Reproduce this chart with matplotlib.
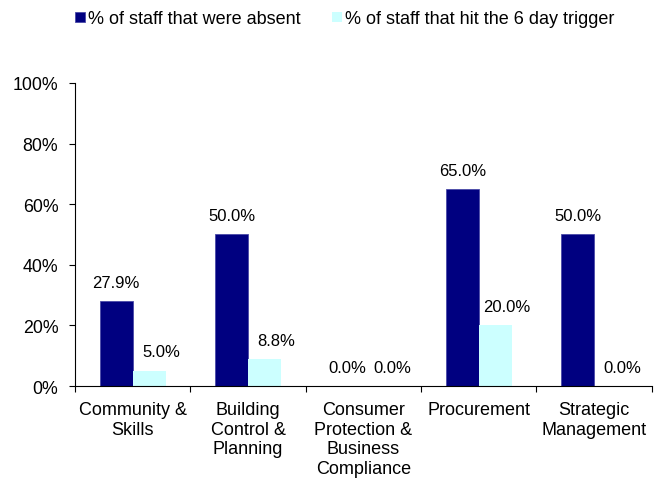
import numpy as np
import matplotlib.pyplot as plt
from matplotlib.ticker import FuncFormatter

plt.rcParams['font.family'] = ['Liberation Sans', 'DejaVu Sans']

categories = ['Community &\nSkills', 'Building\nControl &\nPlanning',
              'Consumer\nProtection &\nBusiness\nCompliance', 'Procurement',
              'Strategic\nManagement']
absent = [27.9, 50.0, 0.0, 65.0, 50.0]
trigger = [5.0, 8.8, 0.0, 20.0, 0.0]
series_names = ['% of staff that were absent', '% of staff that hit the 6 day trigger']

fig = plt.figure(figsize=(6.55, 4.81), dpi=100)
ax = fig.add_axes([0.1145, 0.1954, 0.8805, 0.63])

x = np.arange(len(categories))
w = 0.286
b1 = ax.bar(x - w/2, absent, w, color='#000080', edgecolor='#4a4aa8', linewidth=0.6, label=series_names[0])
b2 = ax.bar(x + w/2, trigger, w, color='#ccffff', linewidth=0, label=series_names[1])

# light series labels sit a little to the right, as in the original
for bars, vals, dx in ((b1, absent, 0), (b2, trigger, 12)):
    for r, v in zip(bars, vals):
        ax.annotate(f'{v:.1f}%', (r.get_x() + r.get_width()/2, v),
                    xytext=(dx, 19), textcoords='offset pixels',
                    ha='center', va='center', fontsize=12)

ax.set_xlim(-0.5, len(categories) - 0.5)
ax.set_ylim(0, 100)
ax.set_yticks(np.arange(0, 101, 20))
ax.yaxis.set_major_formatter(FuncFormatter(lambda v, p: f'{v:.0f}%'))
ax.tick_params(axis='y', labelsize=12.8, length=4, direction='out', pad=8)

ax.set_xticks(np.arange(-0.5, len(categories)), labels=[''] * (len(categories) + 1))
ax.set_xticks(x, labels=categories, minor=True)
ax.tick_params(axis='x', which='major', length=4, direction='out')
ax.tick_params(axis='x', which='minor', length=0, labelsize=13, pad=11)

for s in ('top', 'right'):
    ax.spines[s].set_visible(False)

fig.legend(handles=[b1, b2], loc='upper center', bbox_to_anchor=(0.526, 1.01), ncol=2,
           frameon=False, fontsize=13, handlelength=0.55, handleheight=0.55,
           handletextpad=0.15, columnspacing=1.76)

fig.savefig('out.png', dpi=100)
